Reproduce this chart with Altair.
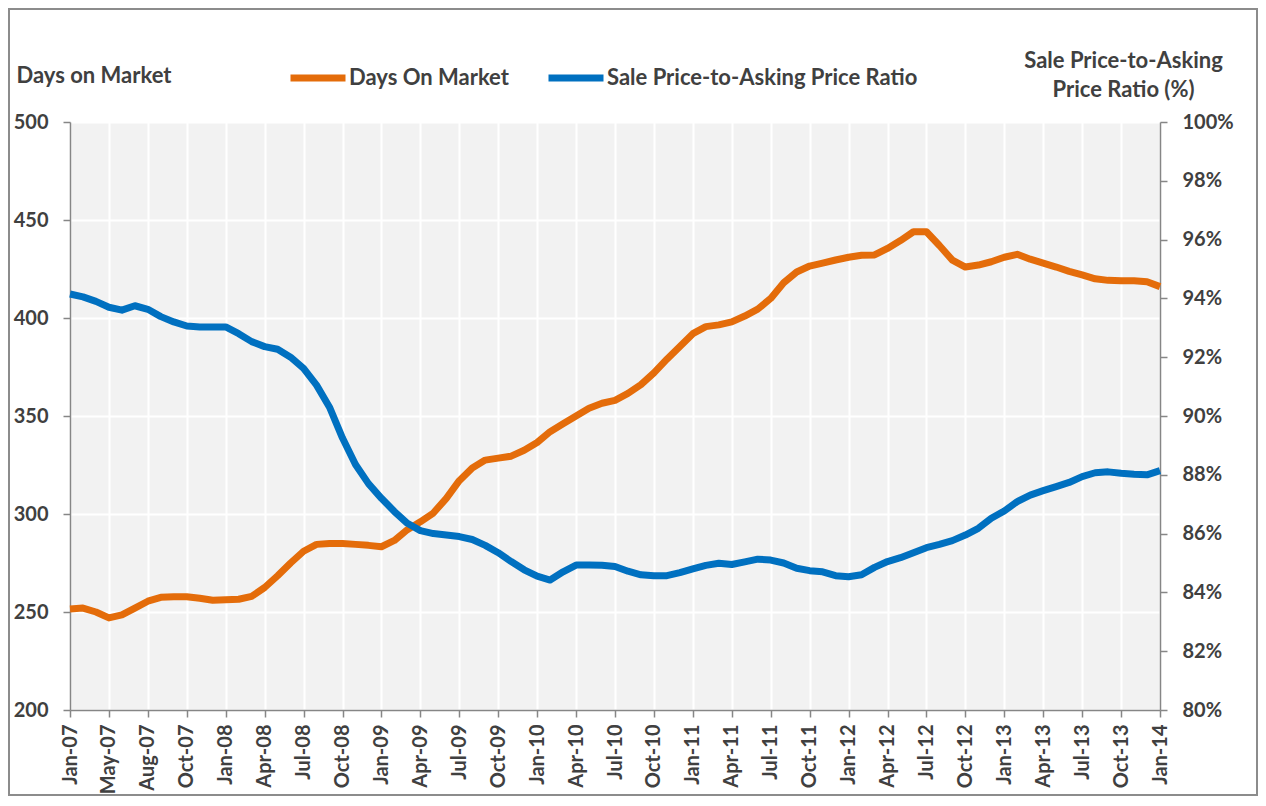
import altair as alt
import pandas as pd

# ---- data (monthly, Jan-07 .. Jan-14) ----
days_on_market = [
    251.5, 252, 250, 247, 248.5, 252, 255.5, 257.5, 257.8, 257.8,
    257, 256, 256.2, 256.5, 258, 262.5, 268.5, 275, 281, 284.5,
    285, 285, 284.5, 284, 283.3, 286.5, 292, 296, 300.5, 308,
    317, 323.5, 327.5, 328.5, 329.5, 332.5, 336.5, 342, 346, 350,
    354, 356.5, 358, 361.5, 366, 372, 379, 385.5, 392, 395.6,
    396.5, 398, 401, 404.5, 410, 418, 423.5, 426.5, 428, 429.6,
    431, 432, 432.2, 435.5, 439.5, 444, 444, 437, 429.5, 426,
    427, 428.7, 431, 432.5, 430, 428, 426, 423.8, 422, 420,
    419.2, 419, 419, 418.5, 416,
]
price_ratio = [
    94.15, 94.05, 93.9, 93.7, 93.6, 93.75, 93.63, 93.38, 93.2, 93.06,
    93.03, 93.03, 93.03, 92.8, 92.53, 92.36, 92.27, 92.0, 91.62, 91.05,
    90.3, 89.25, 88.35, 87.7, 87.2, 86.75, 86.35, 86.1, 86.0, 85.95,
    85.9, 85.8, 85.6, 85.35, 85.05, 84.77, 84.55, 84.42, 84.7, 84.93,
    84.93, 84.92, 84.88, 84.72, 84.6, 84.57, 84.57, 84.67, 84.8, 84.92,
    84.99, 84.95, 85.04, 85.13, 85.1, 85.0, 84.82, 84.74, 84.7, 84.57,
    84.53, 84.6, 84.85, 85.05, 85.18, 85.35, 85.52, 85.63, 85.76, 85.95,
    86.18, 86.52, 86.77, 87.09, 87.31, 87.46, 87.6, 87.74, 87.94, 88.07,
    88.1, 88.05, 88.02, 88.0, 88.14,
]
tick_labels = [
    "Jan-07", "May-07", "Aug-07", "Oct-07",
    "Jan-08", "Apr-08", "Jul-08", "Oct-08",
    "Jan-09", "Apr-09", "Jul-09", "Oct-09",
    "Jan-10", "Apr-10", "Jul-10", "Oct-10",
    "Jan-11", "Apr-11", "Jul-11", "Oct-11",
    "Jan-12", "Apr-12", "Jul-12", "Oct-12",
    "Jan-13", "Apr-13", "Jul-13", "Oct-13",
    "Jan-14",
]
series_names = ["Days On Market", "Sale Price-to-Asking Price Ratio"]
series_colors = ["#E46C0A", "#0070C0"]
left_ticks = [200, 250, 300, 350, 400, 450, 500]
right_ticks = [80, 82, 84, 86, 88, 90, 92, 94, 96, 98, 100]

n = len(days_on_market)
df_days = pd.DataFrame({"idx": list(range(n)), "value": days_on_market,
                        "series": series_names[0]})
df_ratio = pd.DataFrame({"idx": list(range(n)), "value": price_ratio,
                         "series": series_names[1]})

W, H = 1090, 588
TXT = "#404040"
FONT = "Lato"

label_js = "[" + ",".join("'%s'" % s for s in tick_labels) + "]"
x_enc = alt.X(
    "idx:Q",
    scale=alt.Scale(domain=[0, n - 1], nice=False, zero=False),
    axis=alt.Axis(
        values=list(range(0, n, 3)),
        labelExpr=label_js + "[round(datum.value/3)]",
        labelAngle=270,
        labelOverlap=False,
        title=None,
        grid=True,
        gridColor="white",
        gridWidth=2,
        tickColor="#868686",
        tickSize=7,
        tickWidth=1.5,
        domainColor="#868686",
        domainWidth=1.5,
        labelPadding=7,
        labelFontSize=20,
    ),
)

color_enc = alt.Color(
    "series:N",
    scale=alt.Scale(domain=series_names, range=series_colors),
    legend=alt.Legend(
        orient="none",
        direction="horizontal",
        legendX=217,
        legendY=-75,
        title=None,
        symbolType="stroke",
        symbolSize=3025,
        symbolStrokeWidth=7,
        labelOffset=0,
        columnPadding=25,
        padding=0,
        labelFont=FONT,
        labelFontSize=22,
        labelFontWeight="bold",
        labelColor=TXT,
        labelLimit=0,
    ),
)

left = alt.Chart(df_days).mark_line(strokeWidth=7, strokeJoin="round").encode(
    x=x_enc,
    y=alt.Y(
        "value:Q",
        scale=alt.Scale(domain=[200, 500], nice=False, zero=False),
        axis=alt.Axis(
            values=left_ticks,
            title="Days on Market",
            titleAngle=0,
            titleX=-54,
            titleY=-47,
            titleAlign="left",
            titleBaseline="middle",
            grid=True,
            gridColor="white",
            gridWidth=2,
            tickColor="#868686",
            tickSize=7,
            tickWidth=1.5,
            domainColor="#868686",
            domainWidth=1.5,
            labelPadding=15,
        ),
    ),
    color=color_enc,
)

right = alt.Chart(df_ratio).mark_line(strokeWidth=7, strokeJoin="round").encode(
    x=x_enc,
    y=alt.Y(
        "value:Q",
        scale=alt.Scale(domain=[80, 100], nice=False, zero=False),
        axis=alt.Axis(
            orient="right",
            values=right_ticks,
            labelExpr="datum.value + '%'",
            title=["Sale Price-to-Asking", "Price Ratio (%)"],
            titleAngle=0,
            titleX=-37,
            titleY=-72,
            titleAlign="center",
            titleBaseline="top",
            titleLineHeight=29,
            grid=False,
            tickColor="#868686",
            tickSize=7,
            tickWidth=1.5,
            domainColor="#868686",
            domainWidth=1.5,
            labelPadding=15,
        ),
    ),
    color=color_enc,
)

border = alt.Chart(pd.DataFrame({"a": [0]})).mark_rect(
    fill=None, stroke="#8c8c8c", strokeWidth=2
).encode(
    x=alt.value(-61), x2=alt.value(W + 97),
    y=alt.value(-113), y2=alt.value(H + 85),
)

chart = alt.layer(border, left, right).resolve_scale(
    y="independent"
).properties(
    width=W,
    height=H,
    background="white",
    autosize=alt.AutoSizeParams(type="none"),
    padding={"left": 62, "top": 114, "right": 98, "bottom": 86},
).configure_view(
    fill="#f2f2f2", stroke=None
).configure_axis(
    labelFont=FONT,
    labelFontSize=20,
    labelFontWeight="bold",
    labelColor=TXT,
    titleFont=FONT,
    titleFontSize=22,
    titleFontWeight="bold",
    titleColor=TXT,
)

chart.save("out.html", embed_options={"renderer": "svg", "actions": False})
